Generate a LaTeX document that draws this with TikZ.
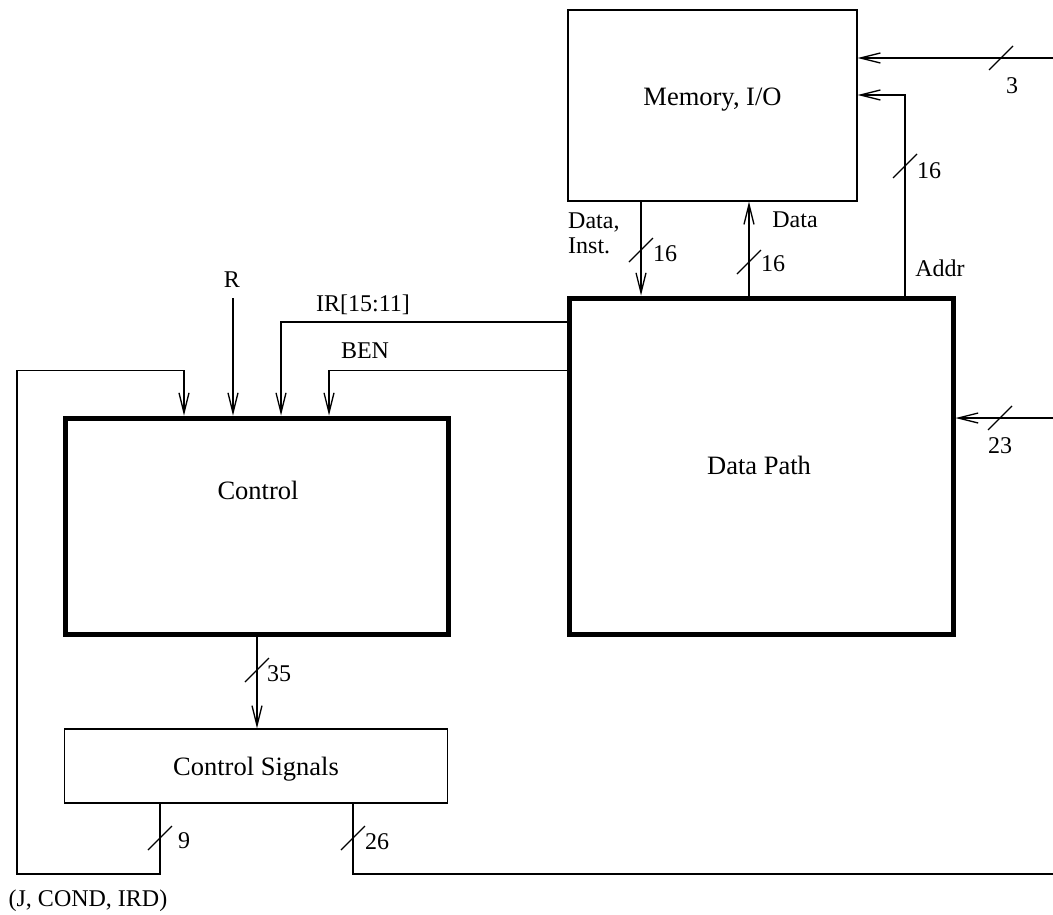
\documentclass[tikz,border=0pt]{standalone}
\usepackage{fontspec}
\setmainfont{Liberation Serif}
\usetikzlibrary{arrows.meta}
\begin{document}
\begin{tikzpicture}[x=1pt,y=-1pt,
  wire/.style={line width=1.3pt},
  arr/.style={wire,-{Straight Barb[length=20pt,width=10pt]}},
  thinbox/.style={draw,line width=1.4pt,inner sep=0pt},
  thickbox/.style={draw,line width=5pt,inner sep=0pt},
  boxlbl/.style={font=\fontsize{26.5}{30}\selectfont,inner sep=0pt},
  lbl/.style={font=\fontsize{24}{25}\selectfont,inner sep=0pt},
  bus/.pic={\draw[line width=1.3pt] (-12,12) -- (12,-12);}
]
\useasboundingbox (0,0) rectangle (1053,914);

% boxes
\node[thinbox,minimum width=289pt,minimum height=191pt] (mem) at (712.5,105.5) {};
\node[thickbox,minimum width=384pt,minimum height=336pt] (dp) at (761,466) {};
\node[thickbox,minimum width=383pt,minimum height=216pt] (ctrl) at (256.75,526) {};
\node[thinbox,minimum width=383pt,minimum height=74pt] (cs) at (256,766) {};

\node[boxlbl] (memt) at (712.5,100) {Memory, I/O};
\node[boxlbl] (dpt) at (759,465) {Data Path};
\node[boxlbl] (ctrlt) at (258,490) {Control};
\node[boxlbl] (cst) at (256,769) {Control Signals};

% coordinates for connectors
\coordinate (in3) at (1053,58);
\coordinate (a1) at (905,95);
\coordinate (xdi) at (641,0);
\coordinate (xd) at (749,0);
\coordinate (ir) at (281,322);
\coordinate (ben) at (329,370.5);
\coordinate (rin) at (233,298);
\coordinate (x35) at (257,0);
\coordinate (fb1) at (160,874);
\coordinate (fb2) at (17,370.5);
\coordinate (fb3) at (184,370.5);
\coordinate (x26) at (353,874);
\coordinate (out26) at (1053,874);
\coordinate (in23) at (1053,418);

% connectors
\draw[arr] (in3) -- (mem.east |- in3);
\draw[arr] (dp.north -| a1) -- (a1) -- (mem.east |- a1);
\draw[arr] (mem.south -| xdi) -- (dp.north -| xdi);
\draw[arr] (dp.north -| xd) -- (mem.south -| xd);
\draw[arr] (dp.west |- ir) -| (ctrl.north -| ir);
\draw[arr] (dp.west |- ben) -| (ctrl.north -| ben);
\draw[arr] (rin) -- (ctrl.north -| rin);
\draw[arr] (ctrl.south -| x35) -- (cs.north -| x35);
\draw[arr] (cs.south -| fb1) -- (fb1) -| (fb2) -| (ctrl.north -| fb3);
\draw[wire] (cs.south -| x26) -- (x26) -- (out26);
\draw[arr] (in23) -- (dp.east |- in23);

% bus width marks
\pic at (1001,58) {bus};
\pic at (905,166) {bus};
\pic at (1000,418) {bus};
\pic at (641,250) {bus};
\pic at (749,262) {bus};
\pic at (257,670) {bus};
\pic at (160,838) {bus};
\pic at (353,838) {bus};

% labels
\node[lbl] (l3) at (1012,86) {3};
\node[lbl] (l16a) at (929,171) {16};
\node[lbl] (laddr) at (940,268) {Addr};
\node[lbl] (l23) at (1000,446) {23};
\node[lbl,anchor=north west,align=left] (ldi) at (568,213) {Data,\\Inst.};
\node[lbl] (l16b) at (665,254) {16};
\node[lbl] (ldata) at (795,220) {Data};
\node[lbl] (l16c) at (773,264) {16};
\node[lbl] (lr) at (232,280) {R};
\node[lbl] (lir) at (363,305) {IR[15:11]};
\node[lbl] (lben) at (365,351) {BEN};
\node[lbl] (l35) at (279,674) {35};
\node[lbl] (l9) at (184,841) {9};
\node[lbl] (l26) at (377,842) {26};
\node[lbl] (ljc) at (88,901) {(J, COND, IRD)};
\end{tikzpicture}
\end{document}
